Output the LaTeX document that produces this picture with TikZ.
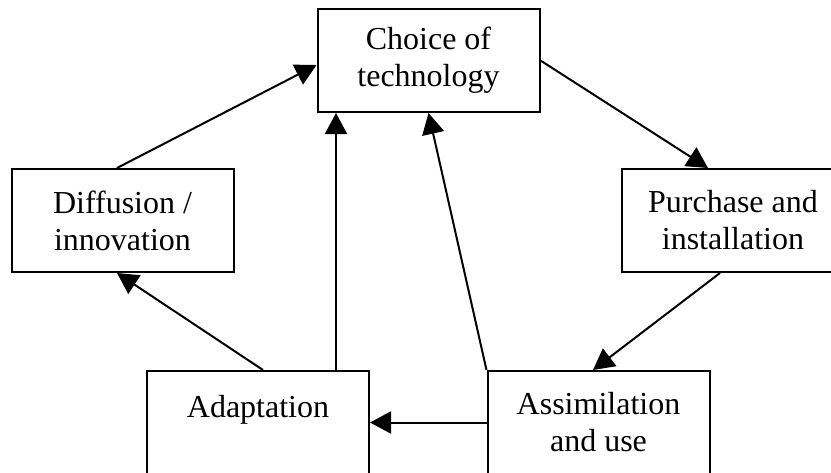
\documentclass[tikz,border=0pt]{standalone}
\usepackage{fontspec}
\setmainfont{Liberation Serif}
\usepackage{tikz}
\usetikzlibrary{arrows.meta,positioning,calc}

\begin{document}
\begin{tikzpicture}[x=0.5pt, y=-0.5pt,
    stage/.style={rectangle, draw, line width=1pt, minimum width=111pt, minimum height=51.5pt, align=center, inner sep=0pt,
        font=\fontsize{16}{18.5}\selectfont},
    flow/.style={line width=1pt, -{Triangle[length=10.5pt, width=11pt]}}]

    \useasboundingbox (0,0) rectangle (831,472);
    \clip (0,0) rectangle (831,472);

    % Top
    \node[stage] (choice) at (428.5,60.5) {Choice of\\technology};

    % Sides
    \node[stage] (diff) at (122.5,220.5) {Diffusion /\\innovation};
    \node[stage] (purch) at (733,220.5) {Purchase and\\installation};

    % Bottom
    \node[stage] (adapt) at (258,422.5) {Adaptation\\[-8pt]\strut};
    \node[stage] (assim) at (598.5,422.5) {Assimilation\\and use};

    % Cycle
    \draw[flow] ([xshift=-2.75pt]diff.north) -- ([yshift=-2.25pt]choice.west);
    \draw[flow] (choice.east) -- ([xshift=-12.5pt]purch.north);
    \draw[flow] ([xshift=-6.5pt]purch.south) -- ([xshift=-2.75pt]assim.north);
    \draw[flow] (assim.west) -- (adapt.east);
    \draw[flow] ([xshift=2.5pt]adapt.north) -- ([xshift=-2.75pt]diff.south);

    % Feedback to choice
    \draw[flow] ([xshift=39pt]adapt.north) -- ([xshift=39pt]adapt.north |- choice.south);
    \draw[flow] (assim.north west) -- (choice.south);

\end{tikzpicture}
\end{document}
